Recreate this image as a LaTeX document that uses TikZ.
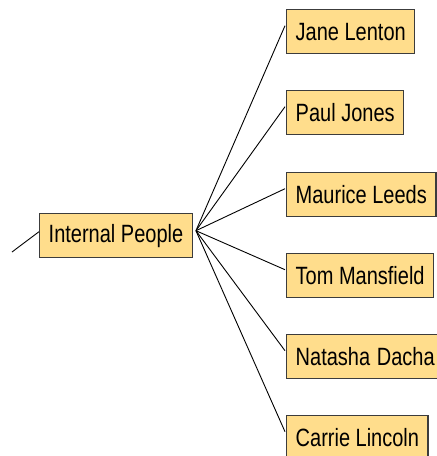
\documentclass[tikz,border=0pt]{standalone}
\usepackage{fontspec}
\setmainfont{Liberation Sans}
\usetikzlibrary{calc}
\definecolor{boxfill}{RGB}{255,221,140}
\definecolor{boxline}{RGB}{60,60,60}
% tall, narrow lettering for the name boxes
\newcommand{\tallname}[1]{\scalebox{1}[1.25]{#1}}
\begin{document}
\begin{tikzpicture}[x=1pt,y=-1pt,
  person/.style={draw=boxline, line width=1.4pt, fill=boxfill, anchor=north west,
    minimum height=44pt, inner xsep=9pt, inner ysep=0pt, font=\fontsize{20}{24}\selectfont},
  link/.style={line width=0.9pt, black}]
\useasboundingbox (0,0) rectangle (437,456);
\clip (0,0) rectangle (437,456);

% root of the branch
\node[person] (ip) at (39,213) {\tallname{Internal People}};

% people
\node[person] (jane)    at (286,9)   {\tallname{Jane Lenton}};
\node[person] (paul)    at (286,90)  {\tallname{Paul Jones}};
\node[person] (maurice) at (286,172) {\tallname{Maurice Leeds}};
\node[person] (tom)     at (286,253) {\tallname{Tom Mansfield}};
\node[person, text width=150pt, align=left] (natasha) at (286,334) {\tallname{Natasha Dacha}};
\node[person] (carrie)  at (286,415) {\tallname{Carrie Lincoln}};

% incoming link from the parent
\coordinate (parent) at (12,252);
\draw[link] (parent) -- ([yshift=4]ip.west);

% fan-out to each person
\coordinate (hub) at ([xshift=3,yshift=5]ip.east);
\foreach \p in {jane,paul,maurice,tom,natasha,carrie}
  \draw[link] (hub) -- ([xshift=-1,yshift=6]\p.west);
\end{tikzpicture}
\end{document}
